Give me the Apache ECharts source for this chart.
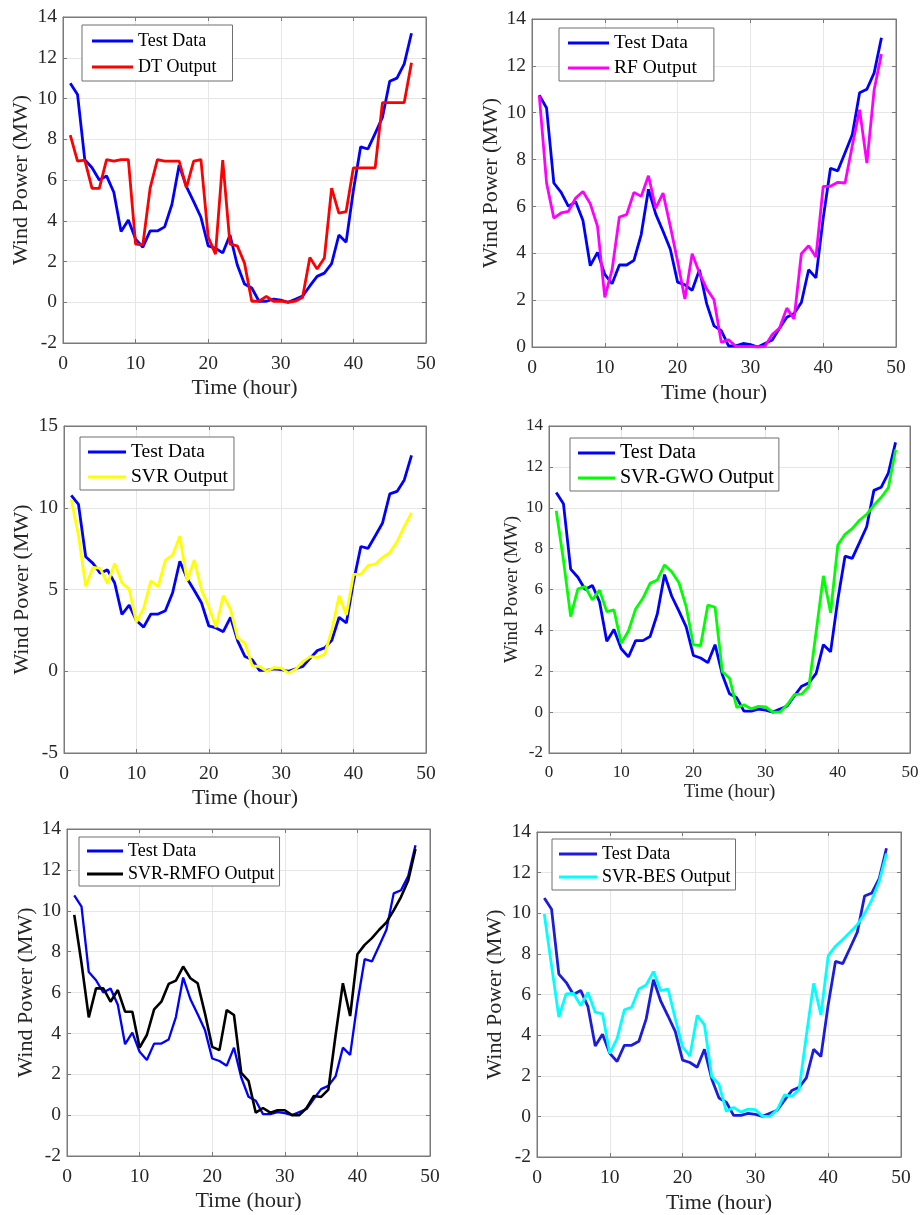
<!DOCTYPE html>
<html>
<head>
<meta charset="utf-8">
<script src="https://cdn.jsdelivr.net/npm/echarts@6/dist/echarts.min.js"></script>
<style>
html,body{margin:0;padding:0;background:#fff;}
#chart{width:922px;height:1215px;}
</style>
</head>
<body>
<div id="chart"></div>
<script>
const hours = [1,2,3,4,5,6,7,8,9,10,11,12,13,14,15,16,17,18,19,20,21,22,23,24,25,26,27,28,29,30,31,32,33,34,35,36,37,38,39,40,41,42,43,44,45,46,47,48];
const testData = [10.75,10.2,7.0,6.6,6.0,6.2,5.4,3.47,4.04,3.1,2.7,3.5,3.5,3.7,4.8,6.73,5.67,4.94,4.17,2.77,2.65,2.42,3.3,1.84,0.9,0.7,0.05,0.05,0.15,0.1,0.0,0.15,0.3,0.8,1.27,1.43,1.9,3.3,2.95,5.5,7.63,7.52,8.29,9.07,10.85,11.0,11.7,13.2];
const dtOutput = [8.2,6.93,6.98,5.59,5.59,7.0,6.93,7.0,7.0,2.85,2.82,5.6,7.0,6.93,6.93,6.93,5.63,6.93,7.0,3.2,2.36,6.98,2.85,2.77,1.92,0.05,0.05,0.29,0.05,0.05,0.0,0.05,0.25,2.2,1.63,2.17,5.6,4.37,4.45,6.6,6.6,6.6,6.6,9.8,9.8,9.8,9.8,11.75];
const rfOutput = [10.73,7.0,5.5,5.72,5.79,6.36,6.64,6.12,5.15,2.12,3.3,5.55,5.65,6.6,6.43,7.31,5.93,6.57,5.15,3.66,2.05,3.98,3.16,2.48,2.02,0.2,0.31,0.03,0.03,0.03,0.0,0.03,0.53,0.81,1.66,1.2,3.98,4.32,3.84,6.86,6.86,7.03,7.0,8.6,10.13,7.85,10.98,12.5];
const svrOutput = [10.5,8.32,5.2,6.35,6.29,5.37,6.59,5.41,5.03,3.0,3.85,5.53,5.17,6.8,7.1,8.26,5.53,6.8,4.96,3.95,2.69,4.62,3.79,2.02,1.71,0.33,0.29,0.0,0.22,0.19,-0.12,0.12,0.59,0.9,0.85,1.04,2.53,4.62,3.44,5.93,5.93,6.46,6.56,6.96,7.25,7.92,8.84,9.69];
const svrGwoOutput = [9.85,7.44,4.67,6.03,6.14,5.49,5.97,4.92,5.0,3.37,3.97,5.05,5.57,6.3,6.46,7.2,6.87,6.33,5.16,3.29,3.26,5.24,5.13,1.99,1.66,0.23,0.36,0.16,0.28,0.25,0.0,0.0,0.37,0.86,0.88,1.25,3.93,6.67,4.86,8.17,8.7,8.98,9.39,9.68,10.12,10.5,10.97,12.84];
const svrRmfoOutput = [9.8,7.43,4.78,6.2,6.2,5.55,6.12,5.06,5.06,3.31,3.92,5.17,5.55,6.42,6.58,7.27,6.7,6.45,4.98,3.34,3.18,5.14,4.9,2.07,1.68,0.12,0.35,0.12,0.24,0.24,0.0,0.0,0.35,0.94,0.89,1.25,3.92,6.45,4.85,7.87,8.33,8.66,9.07,9.43,10.02,10.67,11.48,13.02];
const svrBesOutput = [9.96,7.41,4.89,6.03,6.06,5.46,6.1,5.13,5.05,3.1,3.83,5.24,5.37,6.27,6.47,7.13,6.19,6.27,4.8,3.42,2.97,4.97,4.51,1.96,1.58,0.25,0.44,0.21,0.36,0.33,0.0,0.0,0.33,1.06,0.98,1.31,3.99,6.55,5.0,7.9,8.38,8.71,9.07,9.44,9.98,10.66,11.56,12.94];

const seriesNames = ['DT Output','RF Output','SVR Output','SVR-GWO Output','SVR-RMFO Output','SVR-BES Output'];
const xLabel = 'Time (hour)';
const yLabel = 'Wind Power (MW)';
const xRange = [0, 50, 10];
const yRanges = [[-2,14,2],[0,14,2],[-5,15,5],[-2,14,2],[-2,14,2],[-2,14,2]];
const outputs = [dtOutput, rfOutput, svrOutput, svrGwoOutput, svrRmfoOutput, svrBesOutput];

const FONT = '"Liberation Serif","Times New Roman",serif';
const TXT = '#262626';
const AX = '#7a7a7a';

const panels = [
  {grid:{left:63,top:17,width:363,height:326}, outColor:'#ff0000', testColor:'#0000ff', tick:19.5, title:22, xGap:34, yGap:31, lw:2.8,
   legend:{left:82,top:25,font:18,iw:41,pad:[6,16,4,10],gap:6}},
  {grid:{left:532,top:19,width:364,height:328}, outColor:'#ff00ff', testColor:'#0000ff', tick:19.5, title:22, xGap:35, yGap:30, lw:2.8,
   legend:{left:559,top:28,font:19.5,iw:41,pad:[5,17,3,9],gap:5}},
  {grid:{left:64,top:426,width:362,height:327}, outColor:'#ffff00', testColor:'#0000ff', tick:19.5, title:22, xGap:34, yGap:31, lw:2.8,
   legend:{left:80,top:437,font:19.5,iw:38,pad:[5,6,3,8],gap:5}},
  {grid:{left:549,top:426,width:361,height:327}, outColor:'#00ff00', testColor:'#0000ff', tick:17, title:19, xGap:30, yGap:27, lw:2.8,
   legend:{left:570,top:438,font:20,iw:37,pad:[5,5,3,8],gap:5}},
  {grid:{left:67,top:829,width:363,height:327}, outColor:'#000000', testColor:'#0000ff', tick:19.5, title:22, xGap:34, yGap:29, lw:2.6,
   legend:{left:79,top:837,font:18,iw:36,pad:[4,5,2,8],gap:3}},
  {grid:{left:537,top:832,width:364,height:327}, outColor:'#00ffff', testColor:'#1c1cdc', tick:19.5, title:22, xGap:35, yGap:31, lw:2.8,
   legend:{left:552,top:839,font:18,iw:38,pad:[5,5,3,7],gap:3}}
];

const grid = [], xAxis = [], yAxis = [], series = [], legend = [];
panels.forEach((p, i) => {
  grid.push(Object.assign({show:true, borderColor:AX, borderWidth:1, backgroundColor:'#fff'}, p.grid));
  const yr = yRanges[i];
  xAxis.push({
    type:'value', gridIndex:i, min:xRange[0], max:xRange[1], interval:xRange[2], position:'bottom',
    name:xLabel, nameLocation:'middle', nameGap:p.xGap,
    nameTextStyle:{fontFamily:FONT, fontSize:p.title, color:TXT},
    axisLine:{show:true, onZero:false, lineStyle:{color:AX, width:1}},
    axisTick:{show:true, inside:true, length:4, lineStyle:{color:AX}},
    axisLabel:{fontFamily:FONT, fontSize:p.tick, color:TXT, margin:11},
    splitLine:{show:true, lineStyle:{color:'#e6e6e6', width:1}}
  });
  xAxis.push({
    type:'value', gridIndex:i, min:xRange[0], max:xRange[1], interval:xRange[2], position:'top',
    axisLine:{show:true, onZero:false, lineStyle:{color:AX, width:1}},
    axisTick:{show:true, inside:true, length:4, lineStyle:{color:AX}},
    axisLabel:{show:false}, splitLine:{show:false}
  });
  yAxis.push({
    type:'value', gridIndex:i, min:yr[0], max:yr[1], interval:yr[2], position:'left',
    name:yLabel, nameLocation:'middle', nameGap:p.yGap, nameRotate:90,
    nameTextStyle:{fontFamily:FONT, fontSize:p.title, color:TXT},
    axisLine:{show:true, onZero:false, lineStyle:{color:AX, width:1}},
    axisTick:{show:true, inside:true, length:4, lineStyle:{color:AX}},
    axisLabel:{fontFamily:FONT, fontSize:p.tick, color:TXT, margin:6},
    splitLine:{show:true, lineStyle:{color:'#e6e6e6', width:1}}
  });
  yAxis.push({
    type:'value', gridIndex:i, min:yr[0], max:yr[1], interval:yr[2], position:'right',
    axisLine:{show:true, onZero:false, lineStyle:{color:AX, width:1}},
    axisTick:{show:true, inside:true, length:4, lineStyle:{color:AX}},
    axisLabel:{show:false}, splitLine:{show:false}
  });
  const tw = (i === 4 ? 2.3 : p.lw);
  series.push({
    type:'line', name:'Test Data', xAxisIndex:2*i, yAxisIndex:2*i,
    data:hours.map((h, k) => [h, testData[k]]),
    symbol:'none', showSymbol:false, silent:true, animation:false,
    lineStyle:{color:p.testColor, width:tw}, itemStyle:{color:p.testColor}
  });
  series.push({
    type:'line', name:seriesNames[i], xAxisIndex:2*i, yAxisIndex:2*i,
    data:hours.map((h, k) => [h, outputs[i][k]]),
    symbol:'none', showSymbol:false, silent:true, animation:false,
    lineStyle:{color:p.outColor, width:p.lw}, itemStyle:{color:p.outColor}
  });
  const L = p.legend;
  legend.push({
    show:true, left:L.left, top:L.top, orient:'vertical', padding:L.pad, itemGap:L.gap,
    itemWidth:L.iw, itemHeight:3, selectedMode:false, icon:'rect',
    backgroundColor:'#fff', borderColor:'#6e6e6e', borderWidth:1,
    textStyle:{fontFamily:FONT, fontSize:L.font, color:'#000', lineHeight:20},
    data:[
      {name:'Test Data', icon:'rect', itemStyle:{color:p.testColor, borderWidth:0}},
      {name:seriesNames[i], icon:'rect', itemStyle:{color:p.outColor, borderWidth:0}}
    ]
  });
});

const chart = echarts.init(document.getElementById('chart'), null, {renderer:'canvas'});
chart.setOption({
  animation:false,
  backgroundColor:'#fff',
  grid, xAxis, yAxis, series, legend
});
</script>
</body>
</html>
